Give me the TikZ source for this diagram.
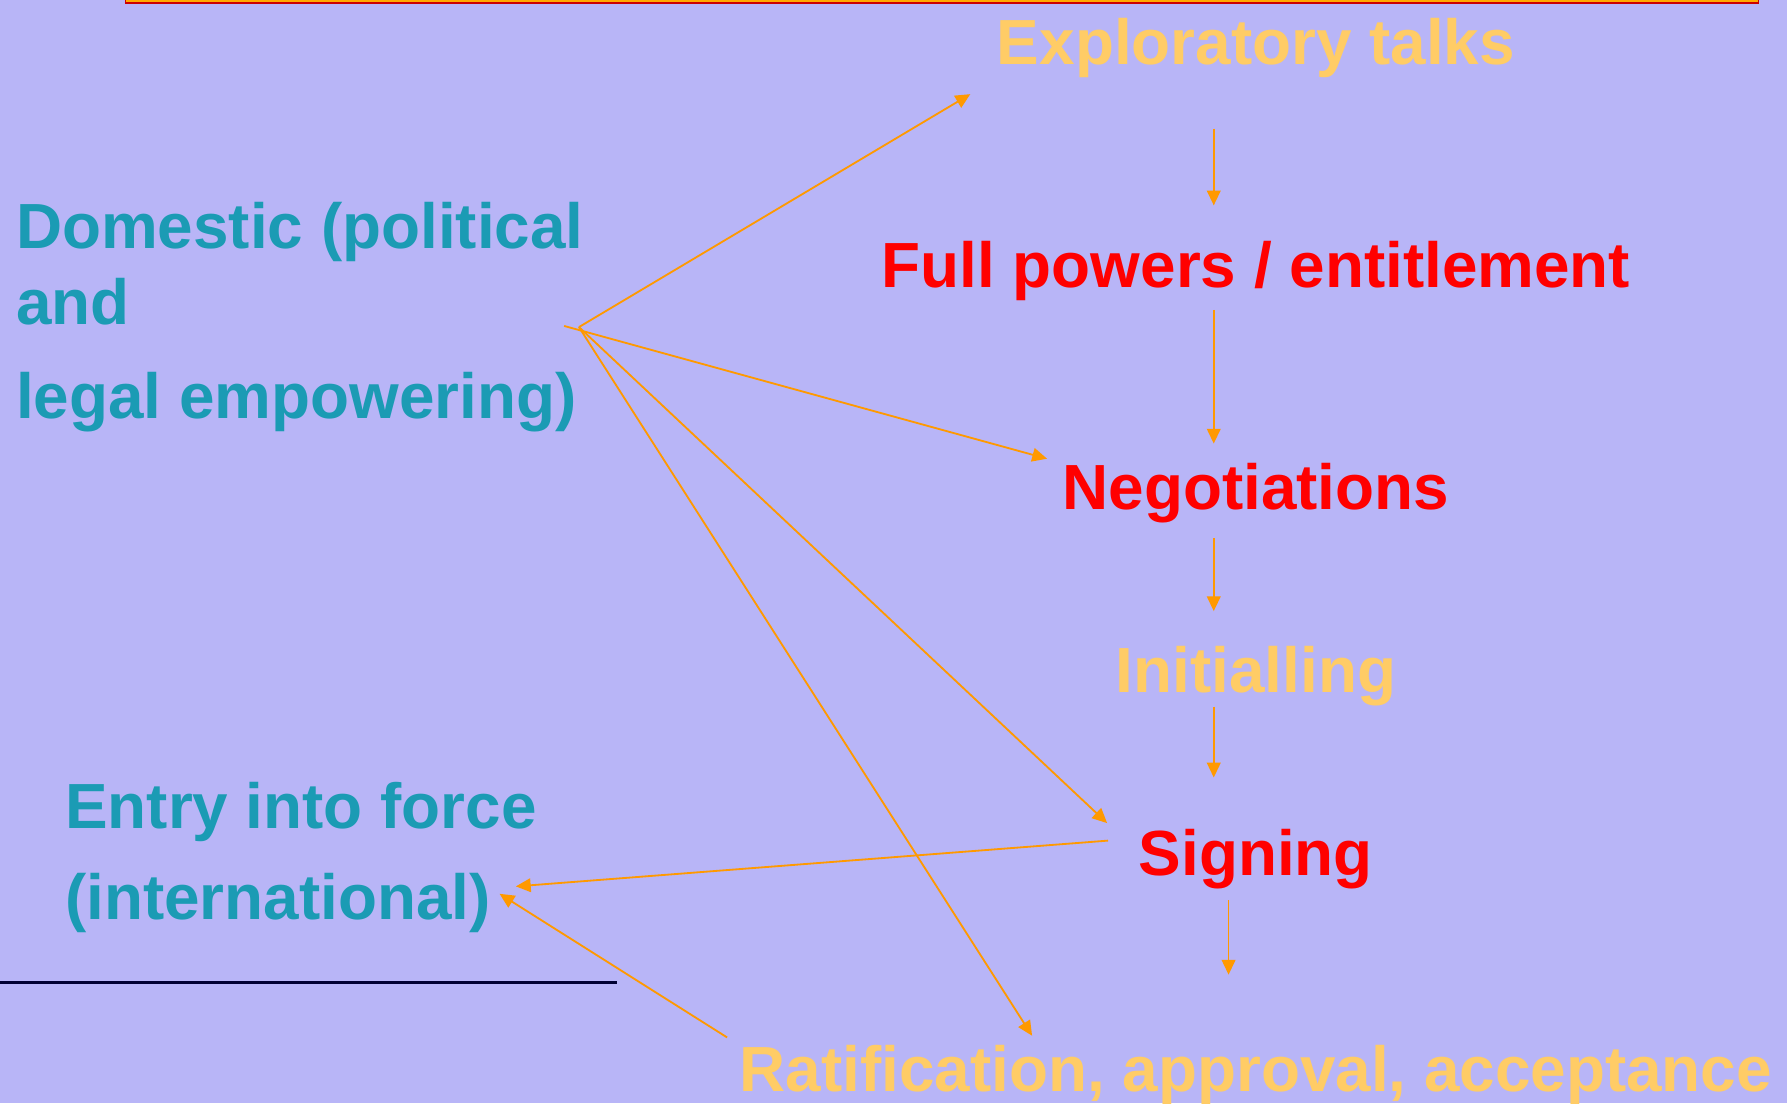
\documentclass[tikz,border=0pt]{standalone}
\usepackage{fontspec}
\setmainfont{Liberation Sans}
\usetikzlibrary{arrows.meta}

\definecolor{slidebg}{RGB}{184,181,247}
\definecolor{flowor}{RGB}{255,153,0}
\definecolor{goldtx}{RGB}{255,204,102}
\definecolor{tealtx}{RGB}{27,155,180}
\definecolor{barfill}{RGB}{255,170,0}
\definecolor{barline}{RGB}{204,0,0}

\tikzset{
	lbl/.style={inner sep=0pt, font=\fontsize{56}{67}\selectfont\bfseries},
	redlbl/.style={lbl, text=red, anchor=base},
	goldlbl/.style={lbl, text=goldtx, anchor=base},
	teallbl/.style={lbl, text=tealtx},
	flow/.style={draw=flowor, line width=1.6pt, -{Triangle[length=13pt,width=12pt]}},
	rule/.style={draw={rgb,255:red,0;green,0;blue,51}, line width=2pt}
}

\begin{document}
\begin{tikzpicture}[x=1pt,y=1pt,yscale=-1,xscale=1]
	\useasboundingbox (0,0) rectangle (1568,968);
	\fill[slidebg] (0,0) rectangle (1568,968);
	
	%title bar (cut off at the top)
	\draw[fill=barfill, draw=barline, line width=1.5pt] (110,-10) rectangle (1543,2.5);
	
	% steps
	\node[goldlbl] (explo) at (1102,57) {Exploratory talks};
	\node[redlbl] (full) at (1102,252) {Full powers / entitlement};
	\node[redlbl] (negot) at (1102,447) {Negotiations};
	\node[goldlbl] (init) at (1102,608) {Initialling};
	\node[redlbl] (sign) at (1102,768) {Signing};
	\node[goldlbl] (ratif) at (1102,958) {Ratification, approval, acceptance};
	
	% left side
	\node[teallbl, anchor=north west, align=left] (dom) at (14,177) {Domestic (political\\and\\[15pt]legal empowering)};
	\node[teallbl, anchor=base west] (entry) at (57,727) {Entry into force};
	\node[teallbl, anchor=base west] (intl) at (57,807) {(international)};
	\coordinate (hub) at (508,287);
	\coordinate (tail) at (495,286);
	
	% chain
	\draw[flow, shorten <=44pt, shorten >=31pt] ([xshift=-37pt]explo.south) -- ([xshift=-37pt]full.north);
	\draw[flow, shorten <=8pt, shorten >=17pt] ([xshift=-37pt]full.south) -- ([xshift=-37pt]negot.north);
	\draw[flow, shorten <=13pt, shorten >=31pt] ([xshift=-37pt]negot.south) -- ([xshift=-37pt]init.north);
	\draw[flow, shorten >=45pt] ([xshift=-37pt]init.south) -- ([xshift=-37pt]sign.north);
	\draw[flow, shorten <=10pt, shorten >=62pt] ([xshift=-24pt]sign.south) -- ([xshift=-24pt]ratif.north);
	
	% from domestic empowering
	\draw[flow, shorten >=27pt] (hub) -- (explo.south west);
	\draw[flow, shorten >=14pt] (tail) -- (negot.north west);
	\draw[flow, shorten >=38pt] (hub) -- (sign.177);
	\draw[flow, shorten >=10pt] (hub) -- ([xshift=-191pt]ratif.north);
	
	% to entry into force
	\draw[flow, shorten <=27pt, shorten >=22pt] (sign.170) -- (intl.4);
	\draw[flow, shorten <=13pt, shorten >=9pt] (ratif.north west) -- (intl.4);
	
	\draw[rule] (0,862) -- (541,862);
\end{tikzpicture}
\end{document}
